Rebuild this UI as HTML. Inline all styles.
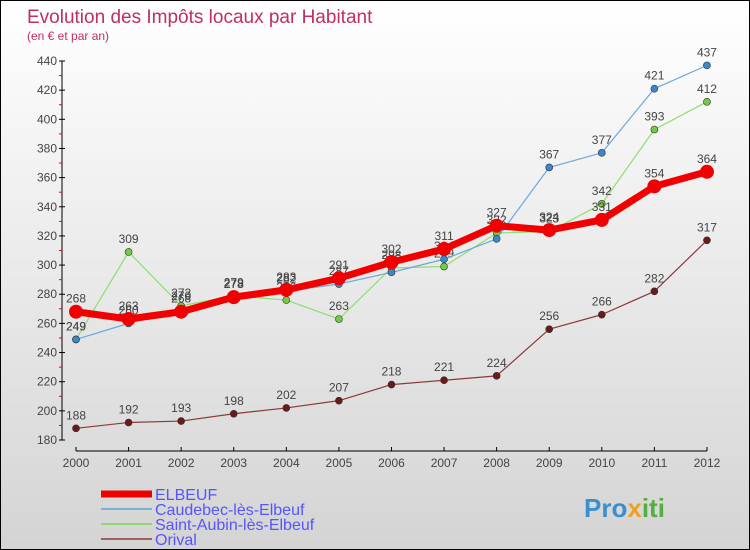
<!DOCTYPE html>
<html><head><meta charset="utf-8"><style>
body{margin:0;}
#wrap{width:750px;height:550px;position:relative;overflow:hidden;box-sizing:border-box;border:1px solid #000;background:linear-gradient(#ffffff,#d4d4d4);font-family:"Liberation Sans",sans-serif;}
</style></head><body>
<div id="wrap">
<svg id="chart" width="750" height="550" style="position:absolute;left:0;top:0">
<text x="26" y="22" font-size="19" fill="#c0305a">Evolution des Impôts locaux par Habitant</text>
<text x="26" y="39" font-size="12" fill="#c0305a">(en € et par an)</text>
<g id="axes"></g><g id="series"></g><g id="legend"></g>
<text x="583" y="516" font-size="26" font-weight="bold" fill="#3a8fd0">Pro<tspan fill="#f0a020">x</tspan><tspan fill="#50b040">iti</tspan></text>
</svg>
</div>
<script>
const years=[2000,2001,2002,2003,2004,2005,2006,2007,2008,2009,2010,2011,2012];
const elbeuf=[268,263,268,278,283,291,302,311,327,324,331,354,364];
const caudebec=[249,260,270,278,282,287,295,304,318,367,377,421,437];
const saintAubin=[249,309,272,279,276,263,298,299,322,323,342,393,412];
const orival=[188,192,193,198,202,207,218,221,224,256,266,282,317];
const yTicks=[180,200,220,240,260,280,300,320,340,360,380,400,420,440];
const NS="http://www.w3.org/2000/svg";
const xS=i=>75+i*52.58;
const yS=v=>439-(v-180)*1.4577;
function mk(t,a,p){const e=document.createElementNS(NS,t);for(const k in a)e.setAttribute(k,a[k]);p.appendChild(e);return e;}
const ax=document.getElementById('axes');
let l=mk('line',{x1:61,y1:yS(440),x2:61,y2:yS(180),stroke:'#000'},ax);


yTicks.forEach((v,i)=>{
 mk('line',{x1:58,x2:64,y1:yS(v),y2:yS(v),stroke:'#000'},ax);
 if(i<yTicks.length-1) mk('line',{x1:58,x2:61,y1:yS(v+10),y2:yS(v+10),stroke:'#f00'},ax);
 const t=mk('text',{x:56,y:yS(v)+4,'font-size':12,fill:'#444','text-anchor':'end'},ax);t.textContent=v;
 
 
});
l=mk('line',{x1:75,x2:xS(12),y1:450,y2:450,stroke:'#000'},ax);


years.forEach((y,i)=>{
 mk('line',{x1:xS(i),x2:xS(i),y1:446,y2:450,stroke:'#000'},ax);
 const t=mk('text',{x:xS(i),y:466,'font-size':12,fill:'#444','text-anchor':'middle'},ax);t.textContent=y;
 
 
});
const sg=document.getElementById('series');
function series(data,color,w,r,dot,name){
 const g=mk('g',{},sg);
 
 
 mk('polyline',{points:data.map((v,i)=>xS(i)+','+yS(v)).join(' '),fill:'none',stroke:color,'stroke-width':w,'stroke-linejoin':'round'},g);
 data.forEach((v,i)=>{
  const c=mk('circle',{cx:xS(i),cy:yS(v),r:r,fill:dot,stroke:w>3?'none':'#333','stroke-width':0.6},g);
  
  
  const t=mk('text',{x:xS(i),y:yS(v)-9,'font-size':12,fill:'#444','text-anchor':'middle'},g);t.textContent=v;
  
  
 });
}
series(orival,'#8a3a3a',1.2,3.5,'#6a1a1a','orival');
series(saintAubin,'#90dd70',1.2,3.5,'#70cc40','saint-aubin');
series(caudebec,'#6aa8dd',1.2,3.5,'#3a88cc','caudebec');
series(elbeuf,'#f00000',7,7,'#f00000','elbeuf');
const lg=document.getElementById('legend');
const items=[['ELBEUF','#f00000',7],['Caudebec-lès-Elbeuf','#7ab0d8',2],['Saint-Aubin-lès-Elbeuf','#90d870',2],['Orival','#a06060',2]];
items.forEach((it,i)=>{
 const y=493+i*15;
 const g=mk('g',{},lg);
 
 
 mk('line',{x1:100,x2:151,y1:y,y2:y,stroke:it[1],'stroke-width':it[2]},g);
 const t=mk('text',{x:154,y:y+6,'font-size':16,fill:'#5555ff'},g);t.textContent=it[0];
});
</script>
</body></html>
